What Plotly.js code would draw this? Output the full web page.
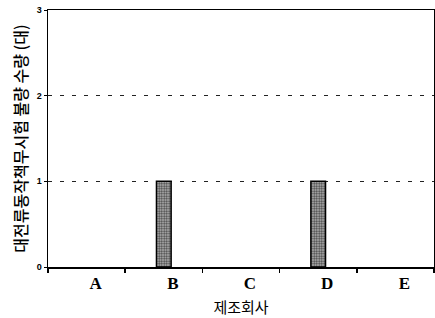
<!DOCTYPE html>
<html>
<head>
<meta charset="utf-8">
<script src="https://cdn.plot.ly/plotly-3.0.1.min.js"></script>
<style>html,body{margin:0;padding:0;background:#fff;}#chart{width:435px;height:318px;}</style>
</head>
<body>
<div id="chart"></div>
<script>
const categories = ['A', 'B', 'C', 'D', 'E'];
const failures = [0, 1, 0, 1, 0];
const yTicks = [0, 1, 2, 3];

const trace = {
  type: 'bar',
  x: categories,
  y: failures,
  width: 0.19,
  marker: {
    color: '#b0b0b0',
    line: {color: '#000', width: failures.map(v => v > 0 ? 1.5 : 0)},
    pattern: {shape: '.', fgcolor: '#444', bgcolor: '#bcbcbc', size: 2.5, solidity: 0.5}
  },
  hoverinfo: 'none'
};

const layout = {
  width: 435, height: 318,
  margin: {l: 48, r: 1, t: 10, b: 51},
  paper_bgcolor: '#fff', plot_bgcolor: '#fff',
  showlegend: false,
  xaxis: {
    type: 'category',
    range: [-0.5, 4.5],
    showline: true, linecolor: '#000', linewidth: 1.5, mirror: true,
    ticks: 'outside', tickson: 'boundaries', ticklen: 4, tickcolor: '#000', tickwidth: 1.5,
    ticklabelshift: 9,
    tickfont: {family: 'Liberation Serif', size: 17, color: '#000', weight: 'bold'},
    showgrid: false,
    title: {text: '제조회사', font: {family: 'Noto Sans CJK KR', size: 15, color: '#000'}, standoff: 10}
  },
  yaxis: {
    range: [0, 3],
    tickvals: yTicks,
    ticktext: yTicks.map(String),
    showline: true, linecolor: '#000', linewidth: 1.5, mirror: true,
    ticks: 'outside', ticklen: 3, tickcolor: '#000',
    tickfont: {family: 'Liberation Sans', size: 9, color: '#000', weight: 'bold'},
    showgrid: true, gridcolor: '#222', gridwidth: 1, griddash: '4px,8px',
    zeroline: false,
    title: {text: '대전류동작책무시험 불량 수량 (대)', font: {family: 'Noto Sans CJK KR', size: 16, color: '#000', weight: 500}, standoff: 5}
  }
};

Plotly.newPlot('chart', [trace], layout, {staticPlot: true, displayModeBar: false});
</script>
</body>
</html>
